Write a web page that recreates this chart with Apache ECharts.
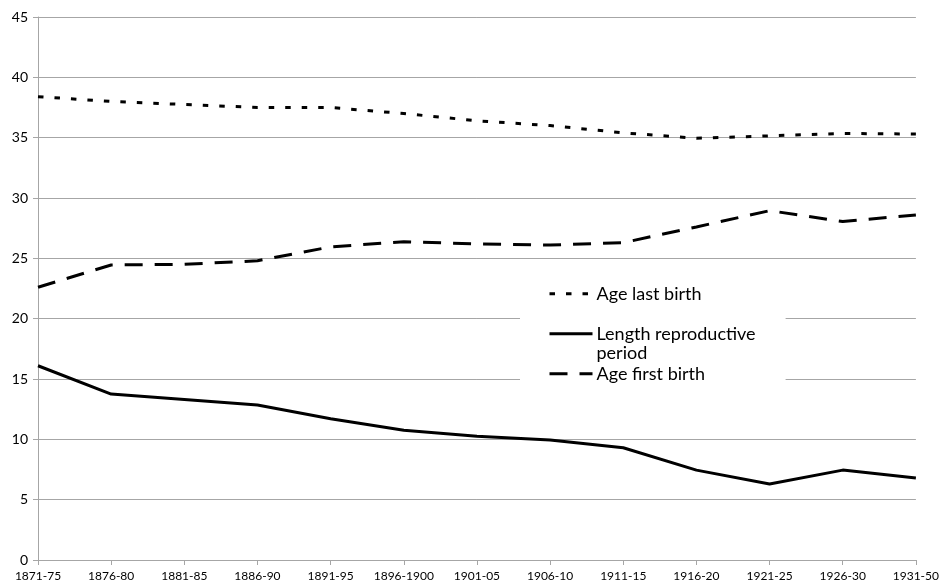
<!DOCTYPE html>
<html>
<head>
<meta charset="utf-8">
<script src="https://cdn.jsdelivr.net/npm/echarts@6/dist/echarts.min.js"></script>
<style>html,body{margin:0;padding:0;background:#fff}#c{width:942px;height:588px}</style>
</head>
<body>
<div id="c"></div>
<script>
const categories = ['1871-75','1876-80','1881-85','1886-90','1891-95','1896-1900','1901-05','1906-10','1911-15','1916-20','1921-25','1926-30','1931-50'];
const ageLastBirth = [38.4, 38.0, 37.75, 37.5, 37.5, 37.0, 36.4, 36.0, 35.4, 34.95, 35.15, 35.35, 35.3];
const lengthReproductive = [16.1, 13.75, 13.3, 12.85, 11.7, 10.75, 10.25, 9.95, 9.3, 7.45, 6.3, 7.45, 6.8];
const ageFirstBirth = [22.6, 24.45, 24.5, 24.8, 25.95, 26.38, 26.2, 26.1, 26.3, 27.6, 28.95, 28.05, 28.6];
const yTicks = {min: 0, max: 45, interval: 5};

const chart = echarts.init(document.getElementById('c'));
const font = 'Lato, "Open Sans", sans-serif';
chart.setOption({
  animation: false,
  backgroundColor: '#fff',
  grid: {left: 38, right: 24, top: 17, bottom: 28},
  legend: {
    orient: 'vertical',
    left: 520, top: 272,
    padding: [12, 30, 6, 28],
    backgroundColor: '#fff',
    itemWidth: 43, itemHeight: 12, itemGap: 1,
    itemStyle: {color: 'transparent', borderColor: 'transparent', borderWidth: 0, opacity: 0},
    lineStyle: {width: 3},
    data: ['Age last birth', 'Length reproductive period', 'Age first birth'],
    formatter: function (n) { return n === 'Length reproductive period' ? ' \nLength reproductive\nperiod' : n; },
    textStyle: {fontFamily: font, fontSize: 18, color: '#000', lineHeight: 19.5, padding: [0, 0, 0, -1]}
  },
  xAxis: {
    type: 'category', data: categories, boundaryGap: false,
    axisLine: {lineStyle: {color: '#a6a6a6', width: 1}},
    axisTick: {show: true, length: 5, alignWithLabel: true, lineStyle: {color: '#a6a6a6'}},
    axisLabel: {interval: 0, margin: 10, fontFamily: font, fontSize: 12, color: '#000'},
    splitLine: {show: false}
  },
  yAxis: {
    type: 'value', min: yTicks.min, max: yTicks.max, interval: yTicks.interval,
    axisLine: {show: true, lineStyle: {color: '#a6a6a6', width: 1}},
    axisTick: {show: true, length: 5, lineStyle: {color: '#a6a6a6'}},
    axisLabel: {margin: 10, fontFamily: font, fontSize: 14, color: '#000'},
    splitLine: {lineStyle: {color: '#a6a6a6', width: 1}}
  },
  series: [
    {name: 'Age last birth', type: 'line', data: ageLastBirth, symbol: 'none',
     lineStyle: {color: '#000', width: 3, type: [5.5, 11], cap: 'butt'}, itemStyle: {color: '#000'}},
    {name: 'Length reproductive period', type: 'line', data: lengthReproductive, symbol: 'none',
     lineStyle: {color: '#000', width: 3, type: 'solid'}, itemStyle: {color: '#000'}},
    {name: 'Age first birth', type: 'line', data: ageFirstBirth, symbol: 'none',
     lineStyle: {color: '#000', width: 3, type: [18, 12], cap: 'butt'}, itemStyle: {color: '#000'}}
  ]
});
</script>
</body>
</html>
